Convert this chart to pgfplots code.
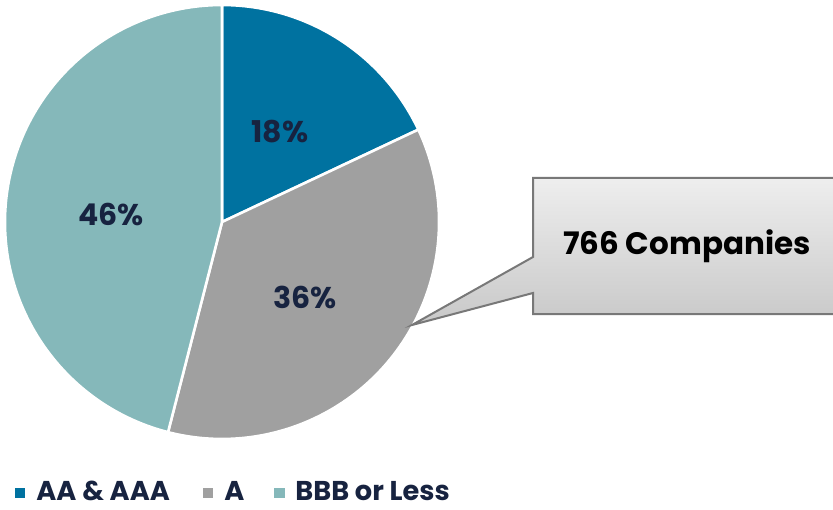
\documentclass[border=0pt]{standalone}
\usepackage{pgfplots}
\pgfplotsset{compat=1.18}
\usepackage{pgfplotstable}
\usepackage{fontspec}
\setmainfont{Poppins}
\definecolor{cAA}{RGB}{0,114,160}
\definecolor{cA}{RGB}{160,160,160}
\definecolor{cBBB}{RGB}{133,184,186}
\definecolor{navy}{RGB}{23,35,64}
\definecolor{boxline}{RGB}{120,120,120}
\definecolor{boxlight}{RGB}{238,238,238}
\definecolor{boxdark}{RGB}{200,200,200}

\pgfplotstableread{
label value
AA 18
A 36
BBB 46
}\ratings

\begin{document}
\pgfplotstablegetelem{0}{value}\of\ratings \edef\vA{\pgfplotsretval}%
\pgfplotstablegetelem{1}{value}\of\ratings \edef\vB{\pgfplotsretval}%
\pgfplotstablegetelem{2}{value}\of\ratings \edef\vC{\pgfplotsretval}%
\pgfmathsetmacro\aA{90}%
\pgfmathsetmacro\aB{\aA-3.6*\vA}%
\pgfmathsetmacro\aC{\aB-3.6*\vB}%
\pgfmathsetmacro\aD{\aC-3.6*\vC}%
\begin{tikzpicture}
\begin{axis}[at={(0,0)}, anchor=south west, x=0.5pt, y=0.5pt,
  xmin=0, xmax=833, ymin=0, ymax=509, hide axis, clip=false]
% pie slices
\fill[cAA, draw=white, line width=1.3pt] (axis cs:222,287) -- ++(\aA:108.5pt) arc[start angle=\aA, end angle=\aB, radius=108.5pt] -- cycle;
\fill[cA, draw=white, line width=1.3pt] (axis cs:222,287) -- ++(\aB:108.5pt) arc[start angle=\aB, end angle=\aC, radius=108.5pt] -- cycle;
\fill[cBBB, draw=white, line width=1.3pt] (axis cs:222,287) -- ++(\aC:108.5pt) arc[start angle=\aC, end angle=\aD, radius=108.5pt] -- cycle;
% labels
\node[font=\bfseries\fontsize{15}{18}\selectfont, text=navy] at (axis cs:280,377) {\vA\%};
\node[font=\bfseries\fontsize{15}{18}\selectfont, text=navy] at (axis cs:305,212) {\vB\%};
\node[font=\bfseries\fontsize{15}{18}\selectfont, text=navy] at (axis cs:111,295) {\vC\%};
% callout
\draw[boxline, line width=1pt, top color=boxlight, bottom color=boxdark]
  (axis cs:533,331) -- (axis cs:533,252) -- (axis cs:412,184) -- (axis cs:533,216)
  -- (axis cs:533,195) -- (axis cs:845,195) -- (axis cs:845,331) -- cycle;
\node[font=\bfseries\fontsize{15.5}{18}\selectfont, text=black] at (axis cs:687,263) {766 Companies};
% legend
\fill[cAA] (axis cs:15,11) rectangle (axis cs:25,21);
\node[anchor=base west, inner sep=0pt, font=\bfseries\fontsize{13.6}{15}\selectfont, text=navy] at (axis cs:36,9) {AA \& AAA};
\fill[cA] (axis cs:203,11) rectangle (axis cs:213,21);
\node[anchor=base west, inner sep=0pt, font=\bfseries\fontsize{13.6}{15}\selectfont, text=navy] at (axis cs:224,9) {A};
\fill[cBBB] (axis cs:274,11) rectangle (axis cs:285,21);
\node[anchor=base west, inner sep=0pt, font=\bfseries\fontsize{13.6}{15}\selectfont, text=navy] at (axis cs:295,9) {BBB or Less};
\end{axis}
\pgfresetboundingbox
\useasboundingbox (0,0) rectangle (416.5pt,254.5pt);
\end{tikzpicture}
\end{document}
